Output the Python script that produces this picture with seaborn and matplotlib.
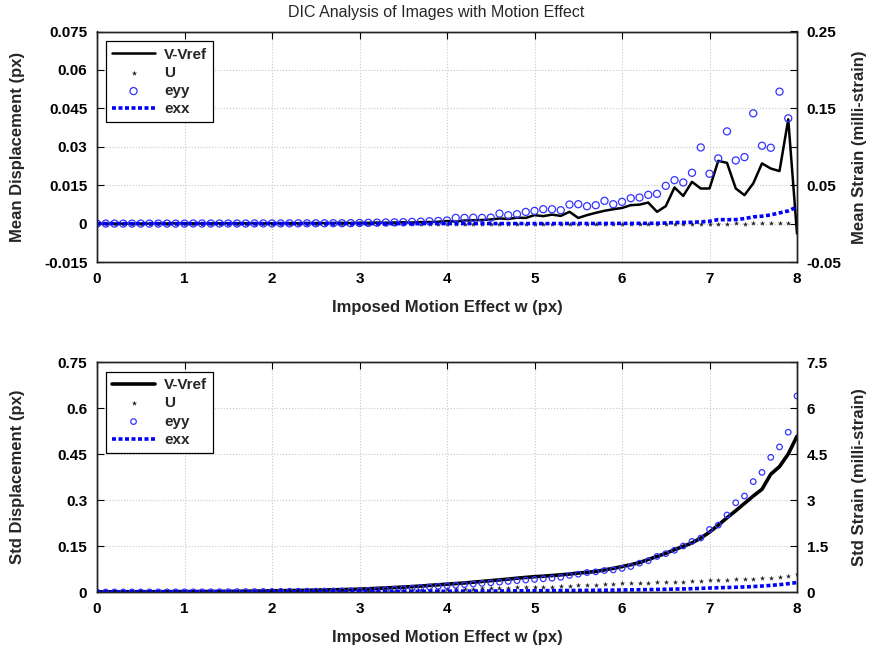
import numpy as np
import matplotlib
matplotlib.use("Agg")
import matplotlib.pyplot as plt
import seaborn as sns

nan = np.nan

# imposed motion effect w (px), 0 to 8 in steps of 0.1
w = np.round(np.arange(0, 8.01, 0.1), 1)

# --- mean values (top panel) ---
mean_v = [
    0.0000, 0.0000, 0.0000, 0.0000, 0.0000, 0.0000, 0.0000, 0.0001, 0.0000, 0.0001,
    0.0001, 0.0001, 0.0000, 0.0001, 0.0001, 0.0001, 0.0001, 0.0001, 0.0001, 0.0001,
    0.0001, 0.0001, 0.0002, 0.0001, 0.0002, 0.0002, 0.0002, 0.0002, 0.0003, 0.0002,
    0.0003, 0.0003, 0.0004, 0.0003, 0.0004, 0.0005, 0.0004, 0.0006, 0.0006, 0.0007,
    0.0010, 0.0008, 0.0012, 0.0013, 0.0014, 0.0016, 0.0020, 0.0018, 0.0023, 0.0022,
    0.0033, 0.0029, 0.0035, 0.0030, 0.0046, 0.0022, 0.0033, 0.0042, 0.0050, 0.0056,
    0.0061, 0.0072, 0.0074, 0.0082, 0.0046, 0.0068, 0.0141, 0.0108, 0.0163, 0.0137,
    0.0137, 0.0245, 0.0237, 0.0137, 0.0111, 0.0157, 0.0235, 0.0215, 0.0205, 0.0407,
    -0.0039]
mean_u = [
    0.0000, 0.0000, 0.0000, 0.0000, 0.0000, 0.0000, 0.0000, 0.0000, 0.0000, 0.0000,
    0.0000, 0.0000, 0.0000, 0.0000, 0.0000, 0.0000, 0.0000, 0.0000, 0.0000, 0.0000,
    0.0000, 0.0000, 0.0000, 0.0000, 0.0000, 0.0000, 0.0000, 0.0000, 0.0000, 0.0000,
    0.0000, 0.0000, 0.0000, 0.0000, 0.0000, 0.0000, 0.0000, 0.0000, 0.0000, 0.0000,
    0.0000, 0.0000, 0.0000, 0.0000, 0.0000, 0.0000, 0.0000, 0.0000, 0.0000, 0.0000,
    0.0000, 0.0000, 0.0000, 0.0000, 0.0000, 0.0000, 0.0000, 0.0000, 0.0000, 0.0000,
    0.0000, 0.0000, -0.0001, 0.0000, 0.0000, 0.0000, -0.0001, 0.0000, -0.0001, 0.0000,
    -0.0001, -0.0002, -0.0002, 0.0001, -0.0002, 0.0001, 0.0003, 0.0002, 0.0002, 0.0002,
    0.0002]
mean_eyy = [
    0.0000, 0.0000, 0.0000, 0.0000, 0.0000, 0.0000, 0.0000, 0.0000, 0.0000, 0.0000,
    0.0000, 0.0001, 0.0001, 0.0001, 0.0001, 0.0001, 0.0001, 0.0001, 0.0002, 0.0002,
    0.0002, 0.0002, 0.0003, 0.0003, 0.0003, 0.0004, 0.0004, 0.0005, 0.0005, 0.0006,
    0.0008, 0.0010, 0.0012, 0.0014, 0.0016, 0.0019, 0.0022, 0.0025, 0.0030, 0.0034,
    0.0040, 0.0074, 0.0074, 0.0076, 0.0074, 0.0078, 0.0130, 0.0109, 0.0122, 0.0152,
    0.0165, 0.0187, 0.0187, 0.0174, 0.0248, 0.0252, 0.0226, 0.0239, 0.0296, 0.0252,
    0.0283, 0.0330, 0.0339, 0.0374, 0.0387, 0.0491, 0.0565, 0.0535, 0.0661, 0.0991,
    0.0648, 0.0848, 0.1200, 0.0822, 0.0865, 0.1435, 0.1013, 0.0987, 0.1717, 0.1370,
    nan]
mean_exx = [
    0.0000, 0.0000, 0.0000, 0.0000, 0.0000, 0.0000, 0.0000, 0.0000, 0.0000, 0.0000,
    0.0000, 0.0000, 0.0000, 0.0000, 0.0000, 0.0000, 0.0000, 0.0000, 0.0000, 0.0000,
    0.0000, 0.0000, 0.0000, 0.0000, 0.0000, 0.0000, 0.0000, 0.0000, 0.0000, 0.0000,
    0.0000, 0.0000, 0.0000, 0.0000, 0.0000, 0.0000, 0.0000, 0.0000, 0.0000, 0.0000,
    0.0000, 0.0000, 0.0000, 0.0000, 0.0000, 0.0000, 0.0000, 0.0000, 0.0000, 0.0000,
    0.0000, 0.0000, 0.0000, 0.0001, 0.0001, 0.0001, 0.0001, 0.0001, 0.0001, 0.0002,
    0.0002, 0.0002, 0.0003, 0.0003, 0.0004, 0.0008, 0.0013, 0.0015, 0.0017, 0.0022,
    0.0030, 0.0052, 0.0050, 0.0052, 0.0065, 0.0087, 0.0096, 0.0113, 0.0139, 0.0165,
    0.0217]

# --- standard deviations (bottom panel) ---
std_v = [
    0.0005, 0.0006, 0.0006, 0.0007, 0.0008, 0.0008, 0.0009, 0.0010, 0.0011, 0.0012,
    0.0013, 0.0014, 0.0016, 0.0017, 0.0019, 0.0021, 0.0023, 0.0026, 0.0029, 0.0033,
    0.0037, 0.0041, 0.0045, 0.0050, 0.0055, 0.0060, 0.0066, 0.0072, 0.0078, 0.0085,
    0.0092, 0.0105, 0.0118, 0.0132, 0.0146, 0.0160, 0.0176, 0.0195, 0.0215, 0.0235,
    0.0255, 0.0275, 0.0295, 0.0320, 0.0345, 0.0370, 0.0395, 0.0420, 0.0450, 0.0475,
    0.0500, 0.0515, 0.0537, 0.0560, 0.0585, 0.0620, 0.0640, 0.0670, 0.0720, 0.0770,
    0.0830, 0.0890, 0.0960, 0.1060, 0.1160, 0.1260, 0.1380, 0.1490, 0.1600, 0.1760,
    0.1950, 0.2180, 0.2420, 0.2650, 0.2890, 0.3130, 0.3350, 0.3840, 0.4090, 0.4500,
    0.5080]
std_u = [
    0.0002, 0.0002, 0.0002, 0.0003, 0.0003, 0.0003, 0.0004, 0.0004, 0.0004, 0.0005,
    0.0005, 0.0006, 0.0006, 0.0007, 0.0007, 0.0008, 0.0009, 0.0010, 0.0011, 0.0012,
    0.0013, 0.0014, 0.0015, 0.0017, 0.0018, 0.0020, 0.0022, 0.0024, 0.0026, 0.0028,
    0.0030, 0.0034, 0.0038, 0.0043, 0.0048, 0.0053, 0.0059, 0.0065, 0.0072, 0.0079,
    0.0086, 0.0094, 0.0102, 0.0110, 0.0118, 0.0127, 0.0136, 0.0145, 0.0155, 0.0164,
    0.0170, 0.0172, 0.0175, 0.0186, 0.0208, 0.0219, 0.0230, 0.0241, 0.0252, 0.0274,
    0.0285, 0.0285, 0.0285, 0.0307, 0.0318, 0.0329, 0.0329, 0.0339, 0.0361, 0.0361,
    0.0383, 0.0394, 0.0405, 0.0416, 0.0427, 0.0438, 0.0449, 0.0471, 0.0504, 0.0526,
    0.0580]
std_eyy = [
    0.000, 0.000, 0.001, 0.001, 0.002, 0.002, 0.003, 0.003, 0.004, 0.005,
    0.005, 0.006, 0.007, 0.008, 0.009, 0.010, 0.012, 0.013, 0.015, 0.017,
    0.019, 0.021, 0.023, 0.025, 0.027, 0.029, 0.031, 0.034, 0.037, 0.040,
    0.043, 0.055, 0.068, 0.080, 0.095, 0.110, 0.125, 0.145, 0.165, 0.185,
    0.200, 0.220, 0.240, 0.260, 0.280, 0.300, 0.320, 0.345, 0.370, 0.390,
    0.410, 0.430, 0.449, 0.480, 0.540, 0.580, 0.635, 0.657, 0.700, 0.720,
    0.770, 0.830, 0.940, 1.020, 1.160, 1.250, 1.360, 1.500, 1.650, 1.760,
    2.040, 2.180, 2.510, 2.910, 3.130, 3.600, 3.900, 4.390, 4.730, 5.210,
    6.390]
std_exx = [
    0.000, 0.000, 0.000, 0.001, 0.001, 0.001, 0.001, 0.002, 0.002, 0.002,
    0.002, 0.003, 0.003, 0.003, 0.004, 0.004, 0.004, 0.005, 0.005, 0.005,
    0.006, 0.006, 0.007, 0.007, 0.008, 0.008, 0.009, 0.010, 0.010, 0.011,
    0.012, 0.013, 0.014, 0.015, 0.016, 0.017, 0.018, 0.020, 0.021, 0.023,
    0.025, 0.026, 0.028, 0.029, 0.031, 0.032, 0.034, 0.036, 0.038, 0.040,
    0.041, 0.043, 0.044, 0.046, 0.048, 0.050, 0.052, 0.055, 0.058, 0.062,
    0.066, 0.070, 0.074, 0.078, 0.083, 0.088, 0.094, 0.100, 0.108, 0.118,
    0.130, 0.138, 0.146, 0.155, 0.165, 0.178, 0.195, 0.215, 0.240, 0.270,
    0.310]

x_ticks = [0, 1, 2, 3, 4, 5, 6, 7, 8]
top_left_ticks = [-0.015, 0, 0.015, 0.03, 0.045, 0.06, 0.075]
top_left_labels = ["-0.015", "0", "0.015", "0.03", "0.045", "0.06", "0.075"]
top_right_ticks = [-0.05, 0, 0.05, 0.1, 0.15, 0.2, 0.25]
top_right_labels = ["-0.05", "", "0.05", "", "0.15", "", "0.25"]
bot_left_ticks = [0, 0.15, 0.3, 0.45, 0.6, 0.75]
bot_left_labels = ["0", "0.15", "0.3", "0.45", "0.6", "0.75"]
bot_right_ticks = [0, 1.5, 3, 4.5, 6, 7.5]
bot_right_labels = ["0", "1.5", "3", "4.5", "6", "7.5"]

sns.set_style("white")
plt.rcParams["font.family"] = ["Liberation Sans", "DejaVu Sans"]
plt.rcParams["font.weight"] = "bold"
plt.rcParams["axes.labelweight"] = "bold"

fig = plt.figure(figsize=(8.72, 6.52), dpi=100)
ax_top = fig.add_axes([97 / 872, 1 - 262 / 652, 700 / 872, 230.5 / 652])
ax_bot = fig.add_axes([97 / 872, 1 - 592 / 652, 700 / 872, 230 / 652])

dot_style = (0, (1.1, 0.7))


def draw_panel(ax, v, u, eyy, exx, lw, circle_size, ylim_l, ylim_r,
               lticks, llabels, rticks, rlabels, ylab_l, ylab_r):
    ax2 = ax.twinx()
    sns.lineplot(x=w, y=v, ax=ax, color="black", linewidth=lw, label="V-Vref", legend=False)
    sns.scatterplot(x=w, y=u, ax=ax, color="black", marker="*", s=16, linewidth=0,
                    alpha=0.85, label="U", legend=False)
    sns.scatterplot(x=w, y=eyy, ax=ax2, facecolor="none", edgecolor="#3333ff", marker="o",
                    s=circle_size, linewidth=0.9, label="eyy", legend=False)
    sns.lineplot(x=w, y=exx, ax=ax2, color="#0000ff", linewidth=2.6, linestyle=dot_style,
                 label="exx", legend=False)

    ax.set_xlim(0, 8)
    ax.set_ylim(*ylim_l)
    ax2.set_ylim(*ylim_r)
    ax.set_xticks(x_ticks)
    ax.set_xticklabels([str(t) for t in x_ticks])
    ax.set_yticks(lticks)
    ax.set_yticklabels(llabels)
    ax2.set_yticks(rticks)
    ax2.set_yticklabels(rlabels)

    ax.grid(True, color="#c8c8c8", linestyle=":", linewidth=0.8)
    ax.set_axisbelow(True)
    for a in (ax, ax2):
        a.tick_params(direction="in", length=5, width=0.8, labelsize=11, colors="black")
        for sp in a.spines.values():
            sp.set_color("#222222")
            sp.set_linewidth(1.0)
    ax.tick_params(top=True, right=False, pad=7)
    ax2.tick_params(pad=7)
    for lab in ax.get_xticklabels() + ax.get_yticklabels() + ax2.get_yticklabels():
        lab.set_fontweight("bold")

    ax.set_xlabel("Imposed Motion Effect w (px)", fontsize=12, fontweight="bold", labelpad=10)
    ax.set_ylabel(ylab_l, fontsize=12, fontweight="bold")
    ax2.set_ylabel(ylab_r, fontsize=12, fontweight="bold")
    ax.yaxis.set_label_coords(-0.103, 0.5)
    ax2.yaxis.set_label_coords(1.079, 0.5)

    h1, l1 = ax.get_legend_handles_labels()
    h2, l2 = ax2.get_legend_handles_labels()
    leg = ax2.legend(h1 + h2, l1 + l2, loc="upper left", bbox_to_anchor=(0.002, 0.99),
                     fancybox=False, framealpha=1, edgecolor="black",
                     handlelength=2.8, handletextpad=0.6, labelspacing=0.28,
                     borderpad=0.4, prop={"weight": "bold", "size": 11})
    leg.get_frame().set_linewidth(0.9)
    return ax2


draw_panel(ax_top, mean_v, mean_u, mean_eyy, mean_exx, 1.8, 26,
           (-0.015, 0.075), (-0.05, 0.25),
           top_left_ticks, top_left_labels, top_right_ticks, top_right_labels,
           "Mean Displacement (px)", "Mean Strain (milli-strain)")
draw_panel(ax_bot, std_v, std_u, std_eyy, std_exx, 2.6, 16,
           (0, 0.75), (0, 7.5),
           bot_left_ticks, bot_left_labels, bot_right_ticks, bot_right_labels,
           "Std Displacement (px)", "Std Strain (milli-strain)")

fig.suptitle("DIC Analysis of Images with Motion Effect", x=0.5, y=0.992,
             fontsize=11.5, fontweight="normal")

fig.savefig("out.png", dpi=100)
